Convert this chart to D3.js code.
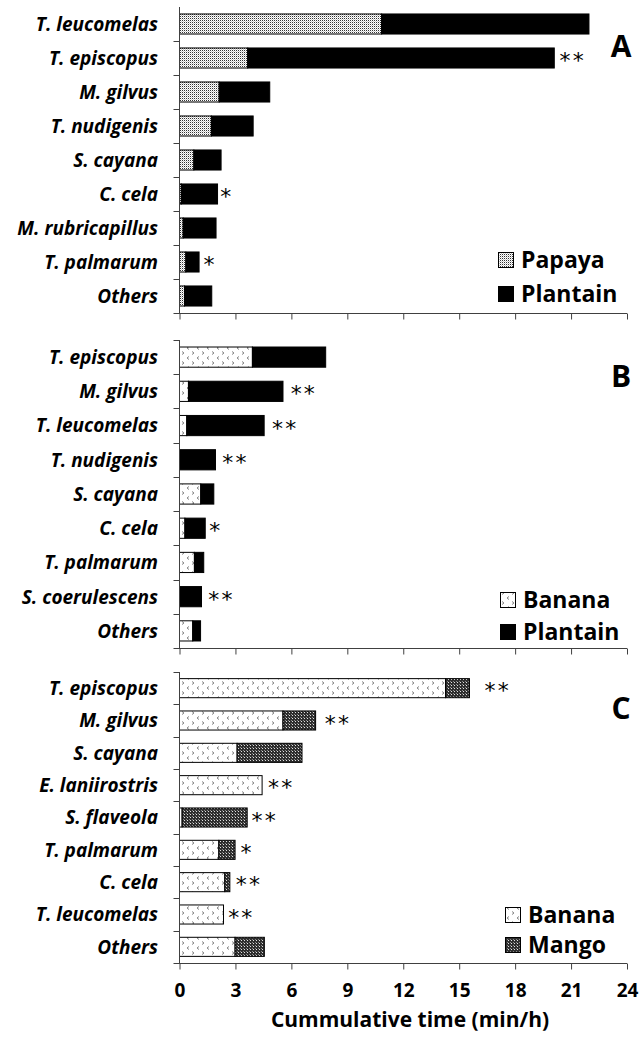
<!DOCTYPE html>
<html>
<head>
<meta charset="utf-8">
<script src="https://cdn.jsdelivr.net/npm/d3@7/dist/d3.min.js"></script>
<style>
  body { margin: 0; background: #fff; }
  svg { display: block; }
  text { font-family: "Open Sans", Lato, sans-serif; fill: #000; }
</style>
</head>
<body>
<script>
// ---- Data (cumulative time, min/h) ----
const speciesA = ["T. leucomelas", "T. episcopus", "M. gilvus", "T. nudigenis", "S. cayana",
                  "C. cela", "M. rubricapillus", "T. palmarum", "Others"];
const papayaA   = [10.84, 3.66, 2.13, 1.71, 0.77, 0.10, 0.20, 0.34, 0.27];
const plantainA = [11.12, 16.44, 2.71, 2.24, 1.46, 1.94, 1.76, 0.71, 1.46];
const sigA      = ["", "**", "", "", "", "*", "", "*", ""];
const sigAtA    = [0, 20.38, 0, 0, 0, 2.18, 0, 1.29, 0];

const speciesB = ["T. episcopus", "M. gilvus", "T. leucomelas", "T. nudigenis", "S. cayana",
                  "C. cela", "T. palmarum", "S. coerulescens", "Others"];
const bananaB   = [3.91, 0.48, 0.39, 0.00, 1.14, 0.29, 0.80, 0.00, 0.71];
const plantainB = [3.93, 5.07, 4.15, 1.93, 0.70, 1.09, 0.50, 1.18, 0.42];
const sigB      = ["", "**", "**", "**", "", "*", "", "**", ""];
const sigAtB    = [0, 5.96, 4.96, 2.29, 0, 1.59, 0, 1.54, 0];

const speciesC = ["T. episcopus", "M. gilvus", "S. cayana", "E. laniirostris", "S. flaveola",
                  "T. palmarum", "C. cela", "T. leucomelas", "Others"];
const bananaC = [14.27, 5.55, 3.09, 4.43, 0.14, 2.11, 2.43, 2.36, 2.98];
const mangoC  = [1.28, 1.75, 3.48, 0.00, 3.49, 0.87, 0.27, 0.00, 1.57];
const sigC    = ["**", "**", "", "**", "**", "*", "**", "**", ""];
const sigAtC  = [16.36, 7.79, 0, 4.75, 3.86, 3.27, 3.02, 2.61, 0];

const xTicks = [0, 3, 6, 9, 12, 15, 18, 21, 24];
const xTitle = "Cummulative time (min/h)";

// ---- Canvas ----
const W = 639, H = 1037;
const svg = d3.select("body").append("svg").attr("width", W).attr("height", H);
const defs = svg.append("defs");

// Papaya: fine grey stipple
const pPap = defs.append("pattern").attr("id", "papaya").attr("patternUnits", "userSpaceOnUse")
  .attr("width", 2).attr("height", 2);
pPap.append("rect").attr("width", 2).attr("height", 2).attr("fill", "#fff");
pPap.append("rect").attr("width", 1).attr("height", 1).attr("fill", "#333");
pPap.append("rect").attr("x", 1).attr("y", 1).attr("width", 1).attr("height", 1).attr("fill", "#c8c8c8");

// Banana: small scattered chevrons on white
const pBan = defs.append("pattern").attr("id", "banana").attr("patternUnits", "userSpaceOnUse")
  .attr("width", 10).attr("height", 10);
pBan.append("rect").attr("width", 10).attr("height", 10).attr("fill", "#fff");
pBan.append("path").attr("d", "M2,1.5 L4,3 L2,4.5").attr("fill", "none").attr("stroke", "#777").attr("stroke-width", 0.9);
pBan.append("path").attr("d", "M9,6.5 L7,8 L9,9.5").attr("fill", "none").attr("stroke", "#777").attr("stroke-width", 0.9);

// Mango: dark grid with light dots
const pMan = defs.append("pattern").attr("id", "mango").attr("patternUnits", "userSpaceOnUse")
  .attr("width", 3).attr("height", 3);
pMan.append("rect").attr("width", 3).attr("height", 3).attr("fill", "#2e2e2e");
pMan.append("rect").attr("x", 1).attr("y", 1).attr("width", 1).attr("height", 1).attr("fill", "#e0e0e0");
pMan.append("rect").attr("x", 0).attr("y", 0).attr("width", 1).attr("height", 1).attr("fill", "#888");

const x = d3.scaleLinear().domain([0, 24]).range([179.5, 627]);

const panels = [
  { letter: "A", species: speciesA, series: [papayaA, plantainA], names: ["Papaya", "Plantain"],
    fills: ["url(#papaya)", "#000"], sig: sigA, sigAt: sigAtA,
    top: 7, bottom: 313, letterY: 57, legendX: 498, legendY: [252, 286] },
  { letter: "B", species: speciesB, series: [bananaB, plantainB], names: ["Banana", "Plantain"],
    fills: ["url(#banana)", "#000"], sig: sigB, sigAt: sigAtB,
    top: 340, bottom: 648, letterY: 387, legendX: 500, legendY: [592, 624] },
  { letter: "C", species: speciesC, series: [bananaC, mangoC], names: ["Banana", "Mango"],
    fills: ["url(#banana)", "url(#mango)"], sig: sigC, sigAt: sigAtC,
    top: 672, bottom: 963, letterY: 719, legendX: 505, legendY: [907, 937] }
];

const axisColor = "#404040";

panels.forEach((p, pi) => {
  const g = svg.append("g");
  const y = d3.scaleBand().domain(p.species).range([p.top, p.bottom])
    .paddingInner(0.41).paddingOuter(0.205);

  // stacked rows
  const rows = p.species.map((s, i) => ({ sp: s, a: p.series[0][i], b: p.series[1][i] }));
  const stacked = d3.stack().keys(["a", "b"])(rows);

  stacked.forEach((layer, li) => {
    g.append("g").selectAll("rect").data(layer).join("rect")
      .attr("x", d => x(d[0]))
      .attr("y", d => y(d.data.sp))
      .attr("width", d => Math.max(0, x(d[1]) - x(d[0])))
      .attr("height", y.bandwidth())
      .attr("fill", p.fills[li])
      .attr("stroke", d => (d[1] - d[0]) > 0 ? "#000" : "none")
      .attr("stroke-width", 1);
  });

  // y axis line and category ticks at band boundaries
  const bounds = d3.range(p.species.length + 1).map(i => p.top + i * (p.bottom - p.top) / p.species.length);
  g.append("line").attr("x1", x(0)).attr("x2", x(0)).attr("y1", p.top).attr("y2", p.bottom)
    .attr("stroke", axisColor).attr("stroke-width", 1);
  g.selectAll("line.yt").data(bounds.slice(pi === 0 ? 1 : 0, -1)).join("line")
    .attr("x1", x(0) - 6).attr("x2", x(0)).attr("y1", d => Math.round(d) + 0.5).attr("y2", d => Math.round(d) + 0.5)
    .attr("stroke", axisColor).attr("stroke-width", 1);

  // species labels
  g.selectAll("text.sp").data(p.species).join("text")
    .attr("x", 158).attr("y", d => y(d) + y.bandwidth() / 2)
    .attr("dy", "0.36em").attr("text-anchor", "end")
    .style("font-weight", 700).style("font-style", "italic").style("font-size", "19px")
    .text(d => d);

  // x axis
  const xAxis = d3.axisBottom(x).tickValues(xTicks).tickSize(6).tickSizeOuter(0)
    .tickFormat(pi === 2 ? d3.format("d") : "");
  const ax = g.append("g").attr("transform", `translate(0,${Math.round(p.bottom) + 0.5})`).call(xAxis);
  ax.select(".domain").remove();
  ax.append("line").attr("x1", x(0) - 6).attr("x2", x(24)).attr("stroke", axisColor);
  ax.selectAll(".tick line").attr("stroke", axisColor);
  ax.selectAll(".tick text").attr("y", 20).attr("dy", "0.71em")
    .style("font-family", "'Open Sans', sans-serif").style("font-weight", 700).style("font-size", "19px").attr("fill", "#000");

  // significance marks
  g.selectAll("text.sig").data(p.species.map((s, i) => ({ s, m: p.sig[i], v: p.sigAt[i] })).filter(d => d.m))
    .join("text")
    .attr("x", d => x(d.v)).attr("y", d => y(d.s) + y.bandwidth() / 2 + 10)
    .style("font-size", "22px").style("font-family", "'DejaVu Sans', sans-serif").attr("fill", "#111")
    .text(d => d.m.split("").join("\u200A"));

  // panel letter
  g.append("text").attr("x", 621).attr("y", p.letterY).attr("text-anchor", "middle")
    .style("font-weight", 700).style("font-size", "30px").text(p.letter);

  // legend
  p.names.forEach((nm, k) => {
    g.append("rect").attr("x", p.legendX + 0.5).attr("y", p.legendY[k] + 0.5).attr("width", 15).attr("height", 15)
      .attr("fill", p.fills[k]).attr("stroke", "#000").attr("stroke-width", 1);
    g.append("text").attr("x", p.legendX + 23).attr("y", p.legendY[k] + 16)
      .style("font-weight", 700).style("font-size", "23px").text(nm);
  });
});

// axis title
svg.append("text").attr("x", 410).attr("y", 1026.5).attr("text-anchor", "middle")
  .style("font-weight", 700).style("font-size", "21px").text(xTitle);
</script>
</body>
</html>
